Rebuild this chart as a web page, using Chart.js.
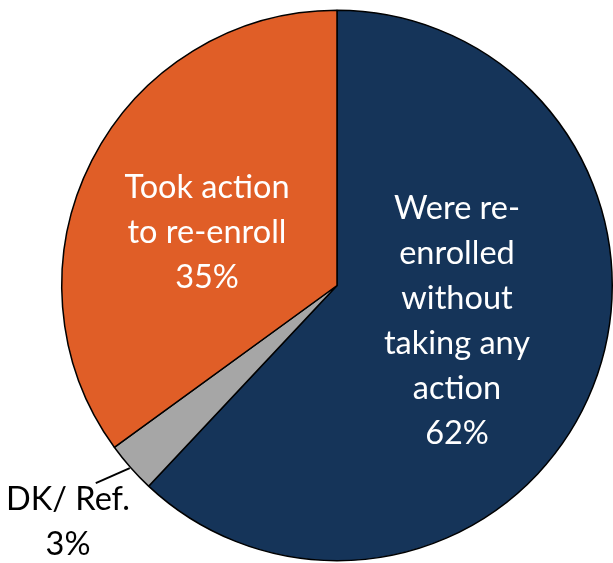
<!DOCTYPE html>
<html>
<head>
<meta charset="utf-8">
<script src="https://cdn.jsdelivr.net/npm/chart.js@4"></script>
<style>
  html, body { margin: 0; padding: 0; background: #fff; }
  #wrap { width: 613px; height: 563px; }
</style>
</head>
<body>
<div id="wrap"><canvas id="pie" width="613" height="563"></canvas></div>
<script>
const categories = ['Were re-enrolled without taking any action', 'DK/ Ref.', 'Took action to re-enroll'];
const shares = [62, 3, 35];
const labelLines = [
  ['Were re-', 'enrolled', 'without', 'taking any', 'action'],
  ['DK/ Ref.'],
  ['Took action', 'to re-enroll']
];
const sliceColors = ['#153459', '#A6A6A6', '#E05E27'];

// where each label sits, relative to the pie centre
const labelStyle = [
  { dx: 120, dy: -67, color: '#fff' },
  { dx: -269, dy: 224, color: '#000', leader: true },
  { dx: -130, dy: -88, color: '#fff' }
];

const FONT = '32.5px Lato';
const LINE_H = 45;

const sliceLabels = {
  id: 'sliceLabels',
  afterDatasetsDraw(chart) {
    const ctx = chart.ctx;
    const arcs = chart.getDatasetMeta(0).data;
    ctx.save();
    ctx.font = FONT;
    ctx.textAlign = 'center';
    ctx.textBaseline = 'alphabetic';
    arcs.forEach((arc, i) => {
      const s = labelStyle[i];
      const lines = labelLines[i].concat([shares[i] + '%']);
      const x = arc.x + s.dx;
      let y = arc.y + s.dy;
      if (s.leader) {
        const mid = (arc.startAngle + arc.endAngle) / 2;
        const sx = arc.x + Math.cos(mid) * (arc.outerRadius + 1);
        const sy = arc.y + Math.sin(mid) * (arc.outerRadius + 1);
        ctx.beginPath();
        ctx.moveTo(sx, sy);
        ctx.lineTo(sx - 34, sy + 15);
        ctx.lineWidth = 2;
        ctx.strokeStyle = '#000';
        ctx.stroke();
      }
      ctx.fillStyle = s.color;
      lines.forEach(t => {
        ctx.fillText(t, x, y);
        y += LINE_H;
      });
    });
    ctx.restore();
  }
};

new Chart(document.getElementById('pie'), {
  type: 'pie',
  data: {
    labels: categories,
    datasets: [{
      data: shares,
      backgroundColor: sliceColors,
      borderColor: '#000',
      borderWidth: 1.5,
      hoverOffset: 0
    }]
  },
  options: {
    responsive: false,
    animation: false,
    events: [],
    layout: { padding: { top: 9, bottom: 1, left: 61, right: 0 } },
    plugins: {
      legend: { display: false },
      tooltip: { enabled: false }
    }
  },
  plugins: [sliceLabels]
});
</script>
</body>
</html>
